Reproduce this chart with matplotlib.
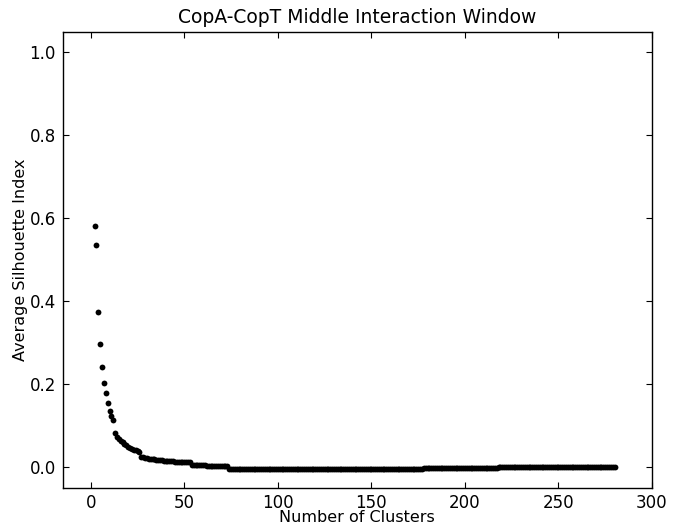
import matplotlib
matplotlib.use("Agg")
import matplotlib.pyplot as plt

# number of clusters tested
clusters = list(range(2, 281))

# average silhouette index, one row = 10 cluster counts
silhouette = [
    0.581, 0.536, 0.374, 0.298, 0.241, 0.204, 0.180, 0.155, 0.137, 0.124,   # 2-11
    0.115, 0.082, 0.074, 0.068, 0.064, 0.060, 0.056, 0.053, 0.050, 0.047,   # 12-21
    0.045, 0.043, 0.041, 0.039, 0.037, 0.025, 0.024, 0.023, 0.022, 0.021,   # 22-31
    0.020, 0.020, 0.019, 0.018, 0.018, 0.017, 0.017, 0.016, 0.016, 0.016,   # 32-41
    0.015, 0.015, 0.015, 0.014, 0.014, 0.014, 0.013, 0.013, 0.013, 0.012,   # 42-51
    0.012, 0.012, 0.005, 0.005, 0.005, 0.005, 0.005, 0.005, 0.005, 0.005,   # 52-61
    0.004, 0.004, 0.004, 0.004, 0.004, 0.004, 0.004, 0.004, 0.004, 0.004,   # 62-71
    0.004, 0.004, -0.003, -0.003, -0.003, -0.003, -0.003, -0.003, -0.003, -0.003,   # 72-81
    -0.003, -0.003, -0.003, -0.003, -0.003, -0.003, -0.003, -0.003, -0.004, -0.004,  # 82-91
    -0.004, -0.004, -0.004, -0.004, -0.004, -0.004, -0.004, -0.004, -0.004, -0.004,  # 92-101
    -0.004, -0.004, -0.004, -0.004, -0.004, -0.004, -0.004, -0.004, -0.004, -0.004,  # 102-111
    -0.004, -0.004, -0.004, -0.004, -0.004, -0.004, -0.004, -0.004, -0.004, -0.004,  # 112-121
    -0.004, -0.004, -0.004, -0.004, -0.004, -0.004, -0.004, -0.004, -0.004, -0.004,  # 122-131
    -0.004, -0.004, -0.004, -0.004, -0.004, -0.004, -0.004, -0.004, -0.003, -0.003,  # 132-141
    -0.003, -0.003, -0.003, -0.003, -0.003, -0.003, -0.003, -0.003, -0.003, -0.003,  # 142-151
    -0.003, -0.003, -0.003, -0.003, -0.003, -0.003, -0.003, -0.003, -0.003, -0.003,  # 152-161
    -0.003, -0.003, -0.003, -0.003, -0.003, -0.003, -0.003, -0.003, -0.003, -0.003,  # 162-171
    -0.003, -0.003, -0.003, -0.003, -0.003, -0.003, -0.002, -0.002, -0.002, -0.002,  # 172-181
    -0.002, -0.002, -0.002, -0.002, -0.002, -0.002, -0.002, -0.002, -0.002, -0.002,  # 182-191
    -0.002, -0.002, -0.002, -0.002, -0.002, -0.002, -0.002, -0.002, -0.001, -0.001,  # 192-201
    -0.001, -0.001, -0.001, -0.001, -0.001, -0.001, -0.001, -0.001, -0.001, -0.001,  # 202-211
    -0.001, -0.001, -0.001, -0.001, -0.001, -0.001, 0.000, 0.000, 0.000, 0.000,      # 212-221
    0.000, 0.000, 0.000, 0.000, 0.000, 0.000, 0.001, 0.001, 0.001, 0.001,            # 222-231
    0.001, 0.001, 0.001, 0.001, 0.001, 0.001, 0.001, 0.001, 0.001, 0.001,            # 232-241
    0.001, 0.001, 0.001, 0.001, 0.001, 0.001, 0.001, 0.001, 0.001, 0.001,            # 242-251
    0.001, 0.001, 0.001, 0.000, 0.000, 0.000, 0.000, 0.000, 0.000, 0.000,            # 252-261
    0.000, 0.000, 0.000, 0.000, 0.000, 0.000, 0.000, 0.000, 0.000, 0.000,            # 262-271
    0.000, 0.000, 0.000, 0.000, 0.000, 0.000, 0.000, 0.000, 0.000,                   # 272-280
]

plt.rcParams['font.family'] = ['DejaVu Sans']
plt.rcParams['xtick.direction'] = 'in'
plt.rcParams['ytick.direction'] = 'in'
plt.rcParams['xtick.top'] = True
plt.rcParams['ytick.right'] = True

fig = plt.figure(figsize=(6.82, 5.26), dpi=100)
ax = fig.add_axes([0.092, 0.072, 0.864, 0.868])

ax.plot(clusters, silhouette, 'o', color='black', markersize=4.2, markeredgewidth=0)

ax.set_xlim(-15, 300)
ax.set_ylim(-0.05, 1.05)
ax.set_xticks([0, 50, 100, 150, 200, 250, 300])
ax.set_yticks([0.0, 0.2, 0.4, 0.6, 0.8, 1.0])
ax.set_yticklabels(['0.0', '0.2', '0.4', '0.6', '0.8', '1.0'])
ax.tick_params(labelsize=12, length=4, width=0.8, pad=5)
ax.tick_params(axis='x', pad=4)
for s in ax.spines.values():
    s.set_linewidth(1.0)

ax.set_title('CopA-CopT Middle Interaction Window', fontsize=13.5, pad=6)
ax.set_xlabel('Number of Clusters', fontsize=11.5, labelpad=-1)
ax.set_ylabel('Average Silhouette Index', fontsize=11.5, labelpad=1)

fig.savefig('out.png', dpi=100)
